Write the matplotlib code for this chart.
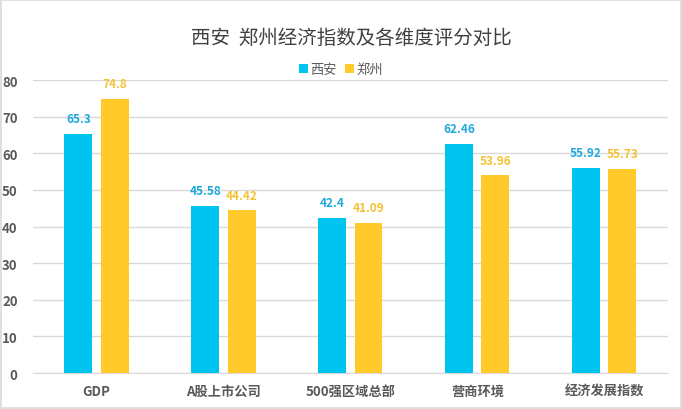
import numpy as np
import matplotlib
matplotlib.use("Agg")
import matplotlib.pyplot as plt
from matplotlib.patches import Rectangle

plt.rcParams['font.family'] = ['Noto Sans CJK SC', 'DejaVu Sans']

# data
categories = ['GDP', 'A股上市公司', '500强区域总部', '营商环境', '经济发展指数']
xian = [65.3, 45.58, 42.4, 62.46, 55.92]
zhengzhou = [74.8, 44.42, 41.09, 53.96, 55.73]
labels_xian = ['65.3', '45.58', '42.4', '62.46', '55.92']
labels_zz = ['74.8', '44.42', '41.09', '53.96', '55.73']

c_xian = '#00C4F0'
c_zz = '#FFCA2A'
c_xian_txt = '#1FA8DC'
c_zz_txt = '#F5C232'
grey = '#595959'

fig = plt.figure(figsize=(6.82, 4.10), dpi=100)
fig.patches.append(Rectangle((0.002, 0.003), 0.996, 0.994, transform=fig.transFigure,
                             fill=False, edgecolor='#D9D9D9', linewidth=1.2))
ax = fig.add_axes([0.0484, 0.0878, 0.9306, 0.7146])

x = np.arange(len(categories))
w = 0.22
off = 0.143
b1 = ax.bar(x - off, xian, w, color=c_xian, label='西安', zorder=3)
b2 = ax.bar(x + off, zhengzhou, w, color=c_zz, label='郑州', zorder=3)

# value labels above bars
for rect, lab in zip(b1, labels_xian):
    ax.text(rect.get_x() + rect.get_width() / 2, rect.get_height() + 2.4, lab,
            ha='center', va='bottom', fontsize=8.5, color=c_xian_txt, fontweight='bold')
for rect, lab in zip(b2, labels_zz):
    ax.text(rect.get_x() + rect.get_width() / 2, rect.get_height() + 2.4, lab,
            ha='center', va='bottom', fontsize=8.5, color=c_zz_txt, fontweight='bold')

ax.set_xlim(-0.5, len(categories) - 0.5)
ax.set_ylim(0, 80)
ax.set_yticks(range(0, 81, 10))
ax.set_xticks(x)
ax.set_xticklabels(categories)
ax.yaxis.grid(True, color='#D9D9D9', linewidth=1, zorder=0)
ax.set_axisbelow(True)
for s in ['top', 'right', 'left']:
    ax.spines[s].set_visible(False)
ax.spines['bottom'].set_color('#D9D9D9')
ax.tick_params(axis='both', length=0, colors=grey, labelsize=9.5)
ax.tick_params(axis='x', pad=8)
ax.tick_params(axis='y', pad=11)
for t in ax.get_xticklabels() + ax.get_yticklabels():
    t.set_fontweight('bold')

fig.text(0.515, 0.905, '西安  郑州经济指数及各维度评分对比', ha='center', va='center',
         fontsize=14, color='#404040')
fig.legend(loc='center', bbox_to_anchor=(0.5, 0.828), ncol=2, frameon=False,
           fontsize=9.5, handlelength=0.7, handleheight=0.7, handletextpad=0.2,
           columnspacing=0.6, labelcolor=grey)

fig.savefig('out.png', dpi=100)
